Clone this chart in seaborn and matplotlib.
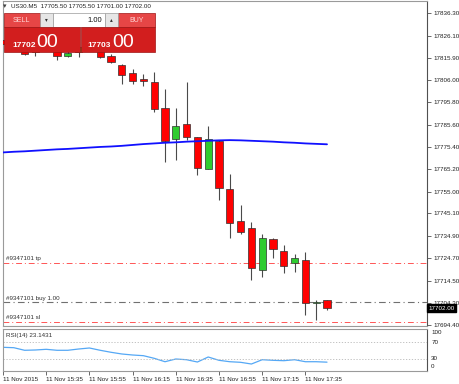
import matplotlib
matplotlib.use("Agg")
import matplotlib.pyplot as plt
import matplotlib.transforms as mtransforms
from matplotlib.patches import Rectangle
import seaborn as sns
import pandas as pd

# US30 M5 candles, 11 Nov 2015 15:15 .. 17:45
bars = list(range(31))
opens = [17824.0, 17822.5, 17821.0, 17818.5, 17821.0, 17822.5, 17816.7, 17818.5, 17821.0, 17819.0,
         17816.7, 17812.6, 17809.3, 17806.3, 17804.8, 17793.3, 17778.9, 17785.8, 17779.8, 17765.4,
         17778.1, 17756.1, 17741.7, 17738.4, 17719.4, 17733.5, 17728.1, 17722.5, 17724.0, 17704.4,
         17705.5]
highs = [17828.5, 17825.0, 17823.5, 17822.5, 17824.0, 17823.0, 17820.0, 17822.5, 17823.0, 17819.5,
         17817.6, 17813.4, 17810.7, 17808.6, 17809.5, 17801.7, 17793.0, 17804.8, 17780.0, 17784.9,
         17778.5, 17763.0, 17749.0, 17741.0, 17735.8, 17734.0, 17730.5, 17726.8, 17727.7, 17705.5,
         17705.5]
lows = [17821.5, 17819.5, 17817.3, 17816.7, 17819.5, 17815.2, 17816.5, 17816.3, 17819.2, 17815.9,
        17813.7, 17804.3, 17804.0, 17803.2, 17791.3, 17768.7, 17769.4, 17778.5, 17762.6, 17765.2,
        17751.0, 17733.8, 17735.8, 17714.9, 17716.1, 17724.7, 17718.1, 17718.6, 17699.0, 17696.7,
        17701.0]
closes = [17822.5, 17820.5, 17817.7, 17821.0, 17822.5, 17817.0, 17818.1, 17821.0, 17820.5, 17816.4,
          17814.1, 17808.4, 17805.5, 17805.4, 17792.8, 17778.2, 17784.9, 17780.0, 17765.7, 17779.0,
          17756.8, 17740.9, 17736.8, 17720.2, 17733.8, 17728.9, 17721.1, 17724.7, 17704.3, 17704.9,
          17702.0]
ma_values = [17772.9, 17773.2, 17773.4, 17773.7, 17774.0, 17774.3, 17774.5, 17774.8, 17775.1, 17775.4,
             17775.6, 17775.9, 17776.3, 17776.7, 17777.0, 17777.3, 17777.5, 17777.8, 17778.0, 17778.2,
             17778.4, 17778.5, 17778.4, 17778.2, 17778.0, 17777.8, 17777.5, 17777.3, 17777.0, 17776.8,
             17776.6]
rsi_values = [58.1, 57.2, 51.1, 51.8, 53.4, 51.1, 51.1, 54.1, 56.5, 51.1,
              46.4, 42.4, 40.0, 38.4, 32.2, 24.2, 30.6, 28.9, 23.5, 35.3,
              27.5, 24.2, 22.8, 18.8, 28.9, 27.5, 26.6, 28.9, 24.2, 24.2,
              23.1431]

time_ticks = [0, 4, 8, 12, 16, 20, 24, 28]
time_labels = ["11 Nov 2015", "11 Nov 15:35", "11 Nov 15:55", "11 Nov 16:15",
               "11 Nov 16:35", "11 Nov 16:55", "11 Nov 17:15", "11 Nov 17:35"]
price_ticks = [17836.30, 17826.10, 17815.90, 17806.00, 17795.80, 17785.60, 17775.40, 17765.20,
               17755.00, 17745.10, 17734.90, 17724.70, 17714.50, 17704.30, 17694.40]
rsi_labels = ["100", "70", "30", "0"]
rsi_label_pos = [91.8, 70.6, 30.6, 11.8]

tp_price = 17722.6
buy_price = 17704.6
sl_price = 17695.8
last_price = 17702.00

df = pd.DataFrame({"bar": bars, "open": opens, "high": highs, "low": lows,
                   "close": closes, "ma": ma_values, "rsi": rsi_values})

sns.set_style("white")
plt.rcParams["font.family"] = ["Liberation Sans", "DejaVu Sans"]

W, H = 459, 384
fig = plt.figure(figsize=(W / 100, H / 100), dpi=100)
fig.patch.set_facecolor("white")

# axes placed in picture pixels
ax = fig.add_axes([3 / W, 1 - 326 / H, 424 / W, 325 / H])
ax_rsi = fig.add_axes([3 / W, 1 - 371 / H, 424 / W, 42 / H])

xmax = 424 / 10.8
for a in (ax, ax_rsi):
    a.set_xlim(0, xmax)
    for s in a.spines.values():
        s.set_color("#9a9a9a")
        s.set_linewidth(0.8)
    a.spines["right"].set_color("#505050")

ax.set_ylim(17693.8, 17841.9)
ax_rsi.set_ylim(2.35, 101.2)

# candles
up = df["close"] >= df["open"]
ax.vlines(df["bar"], df["low"], df["high"], color="#4a4a4a", lw=0.8, zorder=2)
body_lo = df[["open", "close"]].min(axis=1)
body_h = (df["close"] - df["open"]).abs().clip(lower=0.45)
ax.bar(df["bar"], body_h, bottom=body_lo, width=0.66,
       color=["#2fcc2f" if u else "#ff0000" for u in up],
       edgecolor="#303030", linewidth=0.5, zorder=3)

sns.lineplot(data=df, x="bar", y="ma", ax=ax, color="#1010ff", lw=1.3, zorder=4)

# order lines
blend = mtransforms.blended_transform_factory(ax.transAxes, ax.transData)
ax.axhline(tp_price, color="#ff5555", lw=0.7, ls=(0, (6, 3, 1, 3)), zorder=1)
ax.axhline(buy_price, color="#707070", lw=0.8, ls=(0, (6, 3, 1, 3)), zorder=1)
ax.axhline(sl_price, color="#ff5555", lw=0.7, ls=(0, (6, 3, 1, 3)), zorder=1)
for price, txt in [(tp_price, "#9347101 tp"), (buy_price, "#9347101 buy 1.00"),
                   (sl_price, "#9347101 sl")]:
    ax.text(0.006, price + 0.6, txt, transform=blend, fontsize=4.5, color="#303030",
            va="bottom", ha="left")

ax.set_xticks([])
ax.yaxis.tick_right()
ax.set_yticks(price_ticks)
ax.set_yticklabels([f"{p:.2f}" for p in price_ticks])
ax.tick_params(axis="y", right=True, length=3, width=0.6, color="#505050",
               labelsize=4.5, pad=1.5, labelcolor="#202020")
ax.set_xlabel("")
ax.set_ylabel("")

ax.text(1.003, last_price, f"{last_price:.2f}", transform=blend, fontsize=4.5,
        color="white", ha="left", va="center", zorder=10, clip_on=False,
        bbox=dict(boxstyle="square,pad=0.2", fc="black", ec="black"))

# RSI panel
sns.lineplot(data=df, x="bar", y="rsi", ax=ax_rsi, color="#55a8f5", lw=0.9)
for lvl in (70, 30):
    ax_rsi.axhline(lvl, color="#b8b8b8", lw=0.6, ls=(0, (1.5, 2)))
ax_rsi.set_yticks([])
ax_rsi.set_xlabel("")
ax_rsi.set_ylabel("")
rblend = mtransforms.blended_transform_factory(ax_rsi.transAxes, ax_rsi.transData)
for lab, pos in zip(rsi_labels, rsi_label_pos):
    ax_rsi.text(1.01, pos, lab, transform=rblend, fontsize=4.5, color="#202020",
                ha="left", va="center", clip_on=False)
ax_rsi.text(0.007, 0.84, f"RSI(14) {rsi_values[-1]:.4f}",
            transform=ax_rsi.transAxes, fontsize=4.5, color="#303030", va="center")
ax_rsi.set_xticks(time_ticks)
ax_rsi.set_xticklabels(time_labels, ha="left")
ax_rsi.tick_params(axis="x", bottom=True, length=3, width=0.6, color="#505050",
                   labelsize=4.5, pad=1.5, labelcolor="#202020")


def px_rect(x0, y0, x1, y1, **kw):
    fig.add_artist(Rectangle((x0 / W, 1 - y1 / H), (x1 - x0) / W, (y1 - y0) / H,
                             transform=fig.transFigure, **kw))


def px_text(x, y, s, **kw):
    fig.text(x / W, 1 - y / H, s, **kw)


# header
px_text(3, 6, "\u25be", fontsize=5, color="#404040", va="center", family="DejaVu Sans")
px_text(11, 6, "US30.M5  17705.50 17705.50 17701.00 17702.00", fontsize=4.5,
        color="#202020", va="center")

# one click trading panel
red_btn = "#e64646"
red_big = "#d21e1e"
px_rect(3.5, 13, 40, 27, fc=red_btn, ec="#a01515", lw=0.5)
px_rect(118, 13, 155, 27, fc=red_btn, ec="#a01515", lw=0.5)
px_rect(40, 13, 53, 27, fc="#e6e6e6", ec="#9a9a9a", lw=0.5)
px_rect(105, 13, 118, 27, fc="#e6e6e6", ec="#9a9a9a", lw=0.5)
px_rect(53, 13, 105, 27, fc="white", ec="#9a9a9a", lw=0.5)
px_rect(3.5, 27, 79.5, 52, fc=red_big, ec="#a01515", lw=0.5)
px_rect(80.5, 27, 155, 52, fc=red_big, ec="#a01515", lw=0.5)
px_text(21.5, 20, "SELL", fontsize=5, color="#ffd8d8", ha="center", va="center")
px_text(136.5, 20, "BUY", fontsize=5, color="#ffd8d8", ha="center", va="center")
px_text(46.5, 20, "\u25be", fontsize=4, color="#303030", ha="center", va="center",
        family="DejaVu Sans")
px_text(111.5, 20, "\u25b4", fontsize=4, color="#303030", ha="center", va="center",
        family="DejaVu Sans")
px_text(102, 20, "1.00", fontsize=5.5, color="#101010", ha="right", va="center")
px_text(12, 47, "17702", fontsize=6, color="white", weight="bold", va="baseline")
px_text(36.5, 47, "00", fontsize=14, color="white", va="baseline")
px_text(87, 47, "17703", fontsize=6, color="white", weight="bold", va="baseline")
px_text(112, 47, "00", fontsize=14, color="white", va="baseline")

fig.savefig("out.png", dpi=100)
